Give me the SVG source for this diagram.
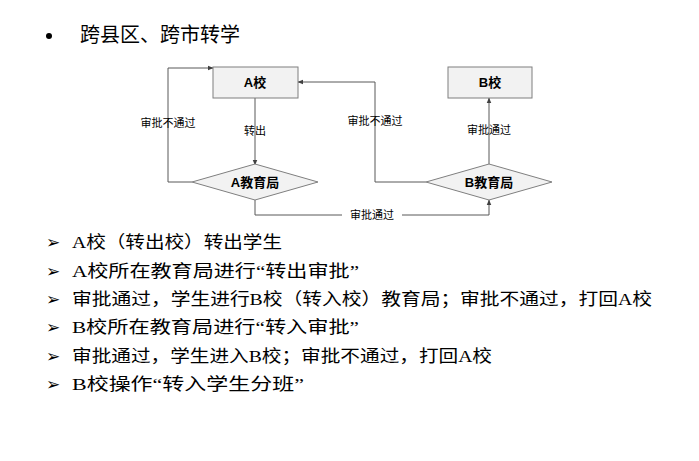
<svg xmlns="http://www.w3.org/2000/svg" width="699" height="461" viewBox="0 0 699 461">
<style>
.n{fill:#f2f2f2;stroke:#7f7f7f;stroke-width:1}
.nt{font-family:"Liberation Sans","Noto Sans CJK SC",sans-serif;font-size:13px;font-weight:bold;text-anchor:middle;fill:#000}
.el{font-family:"Noto Sans CJK SC",sans-serif;font-size:11px;text-anchor:middle;fill:#000}
.c{fill:none;stroke:#595959;stroke-width:1}
.b{font-family:"Liberation Serif","Noto Sans CJK SC",serif;font-size:17px;fill:#000}
</style>
<defs><marker id="ar" viewBox="0 0 10 10" refX="9" refY="5" markerWidth="6" markerHeight="6" orient="auto"><path d="M0,1 L10,5 L0,9 z" fill="#404040"/></marker></defs>
<rect width="699" height="461" fill="#fff"/>
<circle cx="49" cy="36" r="3" fill="#000"/>
<text x="80" y="42" font-family="Noto Sans CJK SC,sans-serif" font-size="20">跨县区、跨市转学</text>
<g id="connectors">
<path class="c" d="M192,182 H168 V68 H213" marker-end="url(#ar)"/>
<path class="c" d="M255,98 V165" marker-end="url(#ar)"/>
<path class="c" d="M426,182 H375 V82 H298" marker-end="url(#ar)"/>
<path class="c" d="M489,165 V98" marker-end="url(#ar)"/>
<path class="c" d="M255,200 V215 H489 V200" marker-end="url(#ar)"/>
<text class="el" x="168" y="127">审批不通过</text>
<text class="el" x="255" y="135">转出</text>
<text class="el" x="375" y="125">审批不通过</text>
<text class="el" x="489" y="134">审批通过</text>
<rect x="342" y="208" width="60" height="14" fill="#fff"/>
<text class="el" x="372" y="219">审批通过</text>
</g>
<g id="nodeA"><rect class="n" x="213" y="67" width="85" height="31"/><text class="nt" x="255" y="87">A校</text></g>
<g id="nodeB"><rect class="n" x="448" y="67" width="84" height="31"/><text class="nt" x="490" y="87">B校</text></g>
<g id="diaA"><polygon class="n" points="192,182 255,164 318,182 255,200"/><text class="nt" x="255" y="187">A教育局</text></g>
<g id="diaB"><polygon class="n" points="426,182 489,164 552,182 489,200"/><text class="nt" x="489" y="187">B教育局</text></g>
<g id="list">
<text class="b" x="46" y="248">➢</text><text class="b" x="72" y="248" textLength="210" lengthAdjust="spacingAndGlyphs">A校（转出校）转出学生</text>
<text class="b" x="46" y="277">➢</text><text class="b" x="72" y="277" textLength="287" lengthAdjust="spacingAndGlyphs">A校所在教育局进行“转出审批”</text>
<text class="b" x="46" y="305">➢</text><text class="b" x="72" y="305" textLength="580" lengthAdjust="spacingAndGlyphs">审批通过，学生进行B校（转入校）教育局；审批不通过，打回A校</text>
<text class="b" x="46" y="333">➢</text><text class="b" x="72" y="333" textLength="287" lengthAdjust="spacingAndGlyphs">B校所在教育局进行“转入审批”</text>
<text class="b" x="46" y="362">➢</text><text class="b" x="72" y="362" textLength="420" lengthAdjust="spacingAndGlyphs">审批通过，学生进入B校；审批不通过，打回A校</text>
<text class="b" x="46" y="390">➢</text><text class="b" x="72" y="390" textLength="232" lengthAdjust="spacingAndGlyphs">B校操作“转入学生分班”</text>
</g>
</svg>
